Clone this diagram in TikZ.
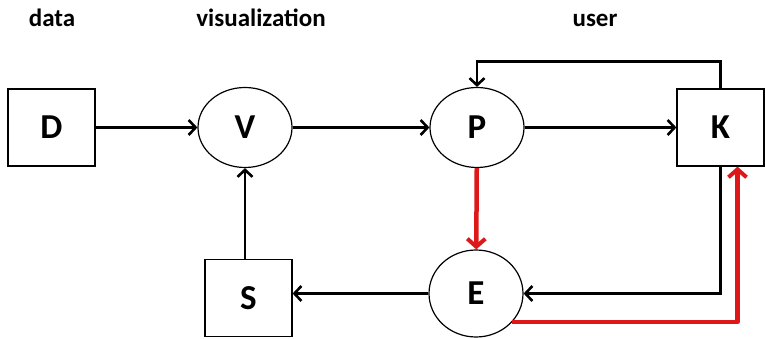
\documentclass[tikz,border=0pt]{standalone}
\usepackage{fontspec}
\setmainfont{Carlito}
\usetikzlibrary{shapes.geometric,arrows.meta}
\definecolor{flowred}{RGB}{222,24,24}
\tikzset{
	box/.style={draw, line width=1.2pt, minimum width=87pt, minimum height=77pt, inner sep=0pt, font=\fontsize{35}{35}\selectfont\bfseries},
	blob/.style={ellipse, draw, line width=1.2pt, minimum width=94pt, minimum height=80pt, inner sep=0pt, font=\fontsize{35}{35}\selectfont\bfseries},
	title/.style={anchor=base, font=\fontsize{25}{25}\selectfont\bfseries},
	flow/.style={line width=2.8pt, -{Straight Barb[length=7pt,width=15pt,line width=2.6pt]}},
	redflow/.style={flowred, line width=4.5pt, line join=round, -{Straight Barb[length=8pt,width=18pt,line width=4pt]}}
}
\begin{document}
\begin{tikzpicture}[x=1pt,y=-1pt]
	% fester Rahmen wie im Bild
	\useasboundingbox (0,0) rectangle (765,339);

	% Ueberschriften
	\node[title] (tdata) at (52,27) {data};
	\node[title] (tvis) at (261,27) {visualization};
	\node[title] (tuser) at (595,27) {user};

	% obere Reihe
	\node[box] (D) at (51.5,127.5) {D};
	\node[blob] (V) at (245,127.5) {V};
	\node[blob] (P) at (477,127.5) {P};
	\node[box] (K) at (720.5,127.5) {K};

	% untere Reihe
	\node[box] (S) at (248.5,298) {S};
	\node[blob, minimum height=87pt] (E) at (476,293.5) {E};

	% Pfeile in der oberen Reihe
	\draw[flow] (D) -- (V);
	\draw[flow] (V) -- (P);
	\draw[flow] (P) -- (K);
	% Rueckkopplung von K nach P ueber oben
	\draw[flow] (K.north) -- ++(0,-27) -| (P.north);

	% K nach E, E nach S, S nach V
	\draw[flow] (K.south) |- (E.east);
	\draw[flow] (E.west) -- (E.west -| S.east);
	\draw[flow] (S.north -| V.south) -- (V.south);

	% rote Pfeile
	\draw[redflow] (P) -- (E);
	\draw[redflow] (E.-38) -| ([xshift=17pt]K.south);
\end{tikzpicture}
\end{document}
